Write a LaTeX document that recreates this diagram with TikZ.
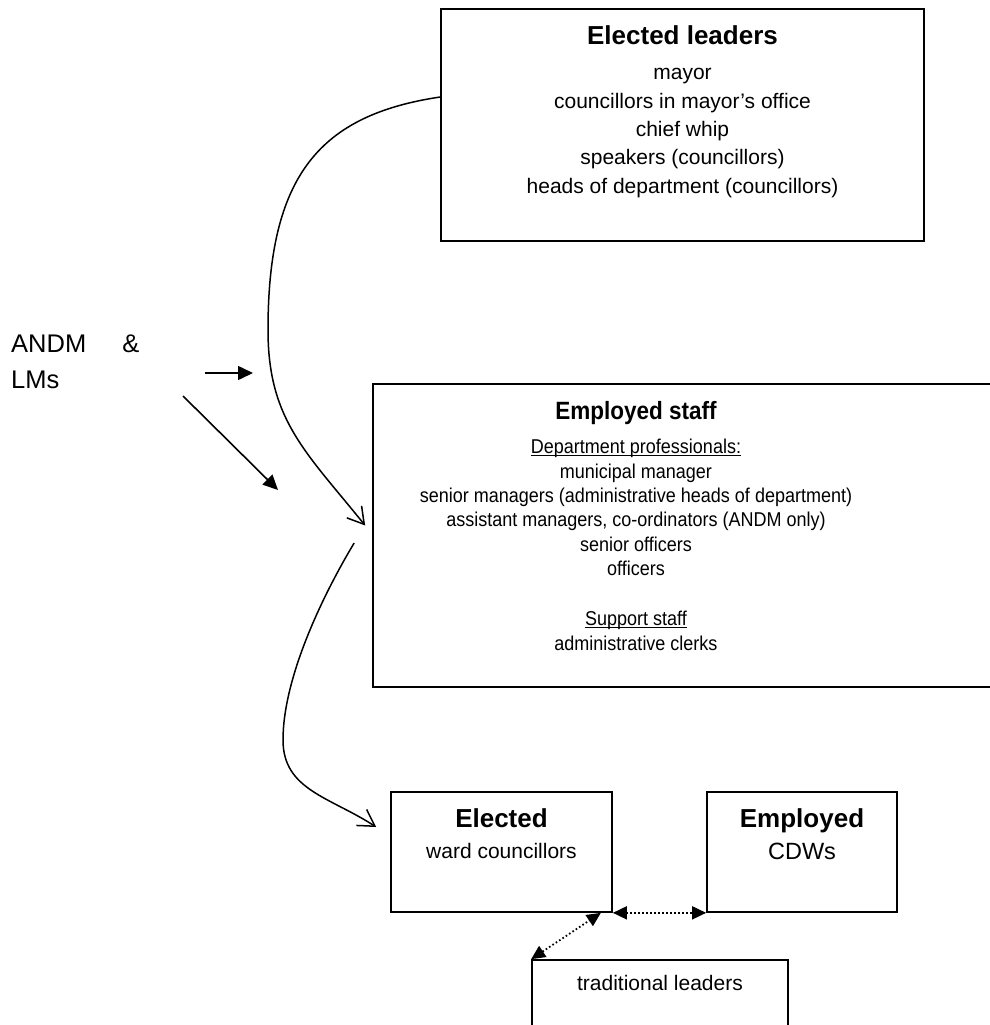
\documentclass[tikz,border=0pt]{standalone}
\usepackage{fontspec}
\setmainfont{Liberation Sans}
\newfontfamily\narrowsans[FakeStretch=0.9]{Liberation Sans}
\usetikzlibrary{arrows.meta}

\newsavebox\ulbox
\newcommand\undl[1]{\sbox\ulbox{#1}\rlap{\rule[-2.6pt]{\wd\ulbox}{1pt}}\usebox\ulbox}

\begin{document}
\begin{tikzpicture}[x=1pt,y=-1pt,
  box/.style={draw,line width=1.7pt,inner sep=0pt},
  txt/.style={anchor=base,align=center,inner sep=0pt},
  flow/.style={line width=1.5pt,-{Straight Barb[length=16pt,width=19pt]}},
  feed/.style={line width=1.6pt,-{Triangle[length=15pt,width=14pt]}},
  link/.style={line width=1.8pt,dash pattern=on 1.6pt off 2.4pt,
    {Triangle[length=14pt,width=13pt]}-{Triangle[length=14pt,width=13pt]}}]

  \useasboundingbox (0,0) rectangle (990,1025);

  % boxes
  \node[box,minimum width=483pt,minimum height=232pt] (leaders) at (682.5,125) {};
  \node[box,minimum width=640pt,minimum height=303pt] (staff) at (693,535.5) {};
  \node[box,minimum width=221pt,minimum height=120pt] (elected) at (501.5,852) {};
  \node[box,minimum width=190pt,minimum height=120pt] (cdw) at (802,852) {};
  \node[box,minimum width=256pt,minimum height=100pt] (trad) at (660,1010) {};

  % texts (base = last line)
  \node[txt,font=\fontsize{21}{28.3}\selectfont] (leaderstext) at (682.5,193)
  {{\fontsize{26}{26}\selectfont\bfseries Elected leaders}\\[6.7pt]
   mayor\\ councillors in mayor's office\\ chief whip\\
   speakers (councillors)\\ heads of department (councillors)};

  \node[txt,font=\narrowsans\fontsize{20}{24.4}\selectfont] (stafftext) at (636,650)
  {{\fontsize{25}{25}\selectfont\bfseries Employed staff}\\[9.6pt]
   \undl{Department professionals:}\\ municipal manager\\
   senior managers (administrative heads of department)\\
   assistant managers, co-ordinators (ANDM only)\\
   senior officers\\ officers\\[25.6pt]
   \undl{Support staff}\\ administrative clerks};

  \node[txt,font=\fontsize{21}{31}\selectfont] (electedtext) at (501.5,858)
  {{\fontsize{26}{26}\selectfont\bfseries Elected}\\ ward councillors};
  \node[txt,font=\fontsize{23.5}{32}\selectfont] (cdwtext) at (802,859)
  {{\fontsize{26}{26}\selectfont\bfseries Employed}\\ CDWs};
  \node[txt,font=\fontsize{21}{25}\selectfont] (tradtext) at (660,990) {traditional leaders};

  \node[anchor=base west,align=left,inner sep=0pt,font=\fontsize{25.5}{36}\selectfont]
    (andm) at (11,388) {ANDM\hspace{36pt}\&\\LMs};

  % arrows
  \coordinate (h1) at (205,373);
  \coordinate (h2) at (253,373);
  \coordinate (d1) at (183,396);
  \coordinate (d2) at (278,490);
  \draw[feed] (h1) -- (h2);
  \draw[feed] (d1) -- (d2);

  \draw[flow] ([yshift=28pt]leaders.west) .. controls (320,115) and (268,175) .. (268,330)
    .. controls (268,420) and (306,452) .. ([xshift=-7pt,yshift=10pt]staff.west);
  \draw[flow] ([xshift=-18pt,yshift=-7.5pt]staff.west) .. controls (320,600) and (283,680) .. (283,740)
    .. controls (283,790) and (330,797) .. ([xshift=-14pt,yshift=25pt]elected.west);

  \draw[link] (elected.south east) -- (cdw.south west);
  \draw[link] (trad.north west) -- ([xshift=-12pt]elected.south east);

\end{tikzpicture}
\end{document}
